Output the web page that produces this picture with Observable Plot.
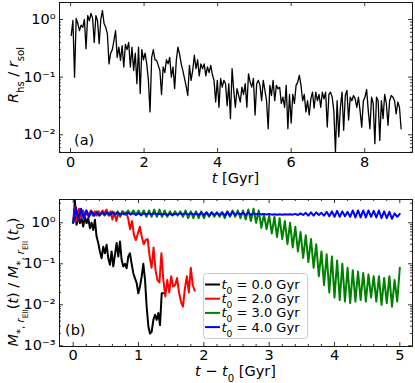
<!DOCTYPE html>
<html><head><meta charset="utf-8">
<script src="https://cdn.jsdelivr.net/npm/d3@7"></script>
<script src="https://cdn.jsdelivr.net/npm/@observablehq/plot@0.6"></script>
<style>
html,body{margin:0;padding:0;background:#fff;}
#chart{position:relative;width:415px;height:383px;}
#chart svg{display:block;}
</style></head><body><div id="chart"></div>
<script>
const FONT = '"DejaVu Sans", sans-serif';
const FS = 14.5;
const LEG_FS = 13;

// ---------- panel (a): R_hs / r_sol vs t ----------
const rhsStart = 0.02, rhsEnd = 8.99;
const rhsValues = [
 0.53,0.96,0.1,1.04,0.85,0.64,0.8,0.73,1.0,0.31,1.17,0.95,1.27,1.05,0.4,1.17,0.95,0.38,1.0,1.43,
 0.85,0.73,0.57,0.17,0.26,0.3,0.43,0.64,0.22,0.33,0.195,0.35,0.15,0.37,0.3,0.4,0.15,0.33,0.13,0.26,
 0.077,0.33,0.052,0.3,0.2,0.26,0.17,0.088,0.025,0.22,0.3,0.2,
 0.195,0.16,0.13,0.05,0.15,0.12,0.2,0.17,0.22,0.1,0.15,0.063,0.195,0.33,0.25,0.17,0.13,0.095,0.07,0.048,
 0.16,0.088,0.13,0.24,0.14,0.2,0.105,0.17,0.14,0.17,0.105,0.15,0.12,0.16,0.11,0.088,0.037,0.088,0.03,0.095,
 0.067,0.088,0.077,0.032,0.077,0.019,0.14,0.059,0.03,0.063,0.048,0.037,0.067,0.05,
 0.077,0.030,0.114,0.082,0.067,0.095,0.022,0.077,0.088,0.072,0.039,0.088,0.059,0.039,0.0127,0.072,0.048,0.088,0.039,0.072,
 0.063,0.067,0.035,0.045,0.030,0.072,0.0127,0.05,0.016,0.05,0.035,0.072,0.082,0.107,0.072,0.039,0.05,0.025,0.039,0.022,
 0.042,0.055,0.029,0.055,0.039,0.05,0.030,0.055,0.042,0.055,0.0136,0.05,0.055,
 0.045,0.026,0.005,0.039,0.0092,0.030,0.055,0.012,0.048,0.059,0.018,0.045,0.039,0.048,0.042,0.030,0.045,0.026,0.0136,0.039,
 0.045,0.061,0.026,0.0127,0.045,0.035,0.007,0.045,0.039,0.008,0.039,0.019,0.05,0.035,0.0146,0.039,0.048,0.045,0.039,0.023,
 0.037,0.030,0.0127
];
const topXTicks = [0, 2, 4, 6, 8];
const topXTickLabels = ["0", "2", "4", "6", "8"];
const topYTicks = [0.01, 0.1, 1];
const topYTickLabels = ["10\u207B\u00B2", "10\u207B\u00B9", "10\u2070"];

// ---------- panel (b): normalised enclosed stellar mass ----------
const seriesT0 = ["0.0", "2.0", "3.0", "4.0"];
const seriesColors = ["black", "red", "green", "blue"];
const seriesEnd = [1.38, 1.86, 5.0, 5.0];
const massT0_0 = [1.0,3.5,0.89,1.42,0.98,1.3,0.81,1.42,0.98,1.3,0.74,1.0,0.67,1.18,0.46,0.32,0.2,0.137,0.26,0.18,
 0.29,0.137,0.095,0.2,0.086,0.166,0.32,0.15,0.35,0.125,0.086,0.1,0.078,0.15,0.18,0.1,0.059,0.044,0.034,0.019,
 0.028,0.049,0.1,0.041,0.009,0.003,0.002,0.0022,0.0043,0.0057,0.0043,0.0063,0.0032,0.019,0.019];
const massT0_2 = [1.0,2.5,1.1,2.2,1.3,2.0,1.4,1.9,1.5,2.0,1.5,1.9,1.5,1.9,1.6,2.0,1.7,2.1,1.5,1.9,
 1.2,1.8,1.1,1.7,1.4,1.9,1.6,1.8,1.3,0.7,1.1,0.5,0.38,0.55,0.8,0.45,0.3,0.38,0.4,0.15,
 0.08,0.25,0.07,0.04,0.035,0.18,0.04,0.016,0.04,0.02,0.05,0.028,0.03,0.045,0.02,0.012,0.009,0.025,0.05,0.02,
 0.08,0.03,0.022];
const massT0_3 = [1.0,2.3,1.3,2.1,1.4,2.0,1.4,1.9,1.5,1.9,1.5,1.8,1.5,1.8,1.5,1.9,1.5,1.9,1.5,1.9,
 1.6,2.0,1.6,2.0,1.6,2.0,1.5,2.0,1.4,2.0,1.4,2.1,1.4,2.1,1.4,2.0,1.4,1.9,1.5,1.9,
 1.5,1.9,1.4,2.0,1.3,1.9,1.3,1.9,1.3,1.9,1.3,1.8,1.4,1.8,1.4,1.8,1.4,1.8,1.3,1.9,
 1.4,2.0,1.4,2.0,1.3,2.0,1.2,2.1,1.1,2.2,1.0,2.0,0.75,1.6,0.7,1.5,0.55,1.4,0.45,1.3,
 0.4,1.1,0.3,1.0,0.25,0.8,0.2,0.6,0.14,0.5,0.11,0.4,0.08,0.3,0.05,0.2,0.03,0.17,0.02,0.15,
 0.015,0.12,0.013,0.1,0.012,0.08,0.011,0.07,0.012,0.065,0.013,0.06,0.012,0.055,0.015,0.05,0.012,0.05,0.01,0.045,
 0.011,0.05,0.009,0.04,0.012,0.08];
const massT0_4 = [1.0,2.4,1.2,2.2,1.3,2.0,1.4,1.9,1.5,1.8,1.5,1.8,1.6,1.8,1.6,1.75,1.6,1.75,1.6,1.7,
 1.6,1.75,1.6,1.7,1.55,1.7,1.55,1.7,1.6,1.7,1.6,1.7,1.6,1.65,1.6,1.65,1.55,1.65,1.55,1.65,
 1.6,1.7,1.6,1.7,1.6,1.7,1.6,1.7,1.55,1.75,1.55,1.8,1.5,1.8,1.55,1.75,1.55,1.8,1.5,1.85,
 1.5,1.85,1.55,1.75,1.6,1.75,1.55,1.8,1.55,1.7,1.6,1.7,1.6,1.65,1.6,1.65,1.58,1.62,1.58,1.62,
 1.58,1.62,1.6,1.62,1.58,1.65,1.55,1.7,1.55,1.75,1.5,1.8,1.5,1.8,1.55,1.75,1.5,1.85,1.45,1.9,
 1.4,1.95,1.4,1.9,1.45,1.85,1.4,2.0,1.35,2.0,1.35,2.0,1.35,2.0,1.4,1.95,1.35,2.0,1.3,1.9,
 1.3,1.85,1.25,1.7,1.4,1.65];
const botXTicks = [0, 1, 2, 3, 4, 5];
const botXTickLabels = ["0", "1", "2", "3", "4", "5"];
const botYTicks = [0.001, 0.01, 0.1, 1];
const botYTickLabels = ["10\u207B\u00B3", "10\u207B\u00B2", "10\u207B\u00B9", "10\u2070"];

// ---------- build tables ----------
const rhsData = rhsValues.map((v, i) => ({t: rhsStart + i * (rhsEnd - rhsStart) / (rhsValues.length - 1), v}));
const massSeries = [massT0_0, massT0_2, massT0_3, massT0_4];
const massData = massSeries.flatMap((vals, k) => vals.map((v, i) => ({t: i * seriesEnd[k] / (vals.length - 1), v, s: seriesT0[k]})));

function logMinor(lo, hi) {
  const out = [];
  for (let e = -4; e <= 1; e++) for (let m = 2; m <= 9; m++) { const v = m * Math.pow(10, e); if (v > lo && v < hi) out.push(v); }
  return out;
}
function inwardTicks(xMaj, xMin, yMaj, yMin, W, H) {
  const s = {stroke: "black", strokeWidth: 0.8};
  const marks = [];
  marks.push(Plot.ruleX(xMaj, {x: d => d, insetTop: H - 4, ...s}));
  marks.push(Plot.ruleX(xMaj, {x: d => d, insetBottom: H - 4, ...s}));
  if (xMin.length) {
    marks.push(Plot.ruleX(xMin, {x: d => d, insetTop: H - 2, ...s}));
    marks.push(Plot.ruleX(xMin, {x: d => d, insetBottom: H - 2, ...s}));
  }
  marks.push(Plot.ruleY(yMaj, {y: d => d, insetRight: W - 4, ...s}));
  marks.push(Plot.ruleY(yMaj, {y: d => d, insetLeft: W - 4, ...s}));
  marks.push(Plot.ruleY(yMin, {y: d => d, insetRight: W - 2, ...s}));
  marks.push(Plot.ruleY(yMin, {y: d => d, insetLeft: W - 2, ...s}));
  return marks;
}

const W = 415, ML = 59, MR = 3;
// top panel geometry
const HA = 190, MTA = 2, MBA = 38;
const topY = [0.00493, 1.97];
const svgA = Plot.plot({
  width: W, height: HA, marginLeft: ML, marginRight: MR, marginTop: MTA, marginBottom: MBA,
  style: {fontFamily: FONT, fontSize: FS + "px", color: "black", background: "white", overflow: "visible"},
  x: {domain: [-0.3, 9.3], label: null},
  y: {type: "log", domain: topY, label: null},
  marks: [
    Plot.line(rhsData, {x: "t", y: "v", stroke: "black", strokeWidth: 1.3, strokeLinejoin: "round", clip: true}),
    ...inwardTicks(topXTicks, [], topYTicks, logMinor(topY[0], topY[1]), W - ML - MR, HA - MTA - MBA),
    Plot.frame({stroke: "black", strokeWidth: 0.9}),
    Plot.axisX(topXTicks, {tickSize: 0, tickPadding: 4.5, tickFormat: d => topXTickLabels[topXTicks.indexOf(d)], fontSize: FS}),
    Plot.axisY(topYTicks, {tickSize: 0, tickPadding: 4, tickFormat: d => topYTickLabels[topYTicks.indexOf(d)], fontSize: FS})
  ]
});

// bottom panel geometry
const HB = 193, MTB = 9, MBB = 37;
const botY = [0.000961, 3.70];
const svgB = Plot.plot({
  width: W, height: HB, marginLeft: ML, marginRight: MR, marginTop: MTB, marginBottom: MBB,
  style: {fontFamily: FONT, fontSize: FS + "px", color: "black", background: "white", overflow: "visible"},
  x: {domain: [-0.21, 5.194], label: null},
  y: {type: "log", domain: botY, label: null},
  color: {domain: seriesT0, range: seriesColors},
  marks: [
    Plot.line(massData, {x: "t", y: "v", z: "s", stroke: "s", strokeWidth: 2, strokeLinejoin: "round", clip: true}),
    ...inwardTicks(botXTicks, d3.range(1, 26).map(i => i * 0.2).filter(v => Math.abs(v - Math.round(v)) > 1e-6), botYTicks, logMinor(botY[0], botY[1]), W - ML - MR, HB - MTB - MBB),
    Plot.frame({stroke: "black", strokeWidth: 0.9}),
    Plot.axisX(botXTicks, {tickSize: 0, tickPadding: 3.5, tickFormat: d => botXTickLabels[botXTicks.indexOf(d)], fontSize: FS}),
    Plot.axisY(botYTicks, {tickSize: 0, tickPadding: 4, tickFormat: d => botYTickLabels[botYTicks.indexOf(d)], fontSize: FS})
  ]
});

const root = document.getElementById("chart");
root.appendChild(svgA);
root.appendChild(svgB);

const it = s => `<tspan font-style="italic">${s}</tspan>`;
const sub = s => `<tspan baseline-shift="sub" font-size="70%">${s}</tspan>`;

function addText(svg, x, y, html, opts = {}) {
  const t = d3.select(svg).append("text")
    .attr("x", x).attr("y", y)
    .attr("font-family", FONT).attr("font-size", opts.fs || FS)
    .attr("fill", "black")
    .attr("text-anchor", opts.anchor || "middle");
  if (opts.rotate) t.attr("transform", `rotate(-90 ${x} ${y})`);
  t.html(html);
  return t;
}

// axis titles
addText(svgA, 235.5, 183, `${it("t")} [Gyr]`);
addText(svgA, 18, 75, `${it("R")}${sub("hs")} / ${it("r")}${sub("sol")}`, {rotate: true});
addText(svgA, 74, 145, "(a)", {anchor: "start"});

addText(svgB, 235.5, 186, `${it("t")} \u2212 ${it("t")}${sub("0")} [Gyr]`);
const mSub = `<tspan baseline-shift="sub" font-size="70%">*, ${it("r")}<tspan baseline-shift="sub" font-size="75%">Ell</tspan></tspan>`;
addText(svgB, 18, 92, `${it("M")}${mSub}(${it("t")}) / ${it("M")}${mSub}(${it("t")}${sub("0")})`, {rotate: true});
addText(svgB, 65, 145, "(b)", {anchor: "start"});

// legend
const lg = d3.select(svgB).append("g");
lg.append("rect").attr("x", 203.5).attr("y", 83.5).attr("width", 104).attr("height", 65).attr("rx", 3)
  .attr("fill", "white").attr("fill-opacity", 0.85).attr("stroke", "#cccccc").attr("stroke-width", 1);
seriesT0.forEach((lab, i) => {
  const yc = 94.5 + i * 14.2;
  lg.append("line").attr("x1", 205).attr("x2", 220).attr("y1", yc).attr("y2", yc)
    .attr("stroke", seriesColors[i]).attr("stroke-width", 2);
  addText(svgB, 221.5, yc + 4.5, `${it("t")}${sub("0")} = ${lab} Gyr`, {anchor: "start", fs: LEG_FS});
});
</script></body></html>
